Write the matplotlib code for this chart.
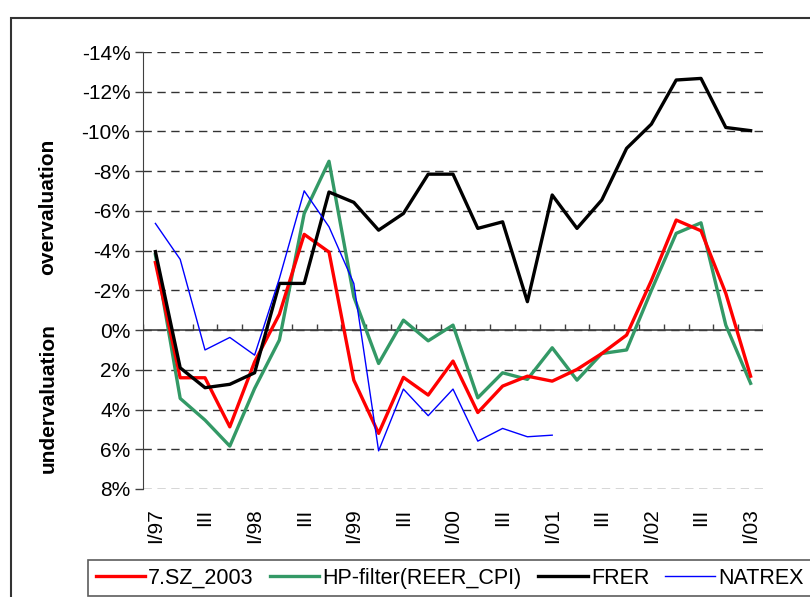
import numpy as np
import matplotlib
matplotlib.use('Agg')
import matplotlib.pyplot as plt
from matplotlib.patches import Rectangle

plt.rcParams['font.family'] = ['Liberation Sans', 'DejaVu Sans']

# Quarterly data, I/97 .. I/03 (deviation in %, negative = overvaluation)
quarters = ['I/97', 'II/97', 'III/97', 'IV/97',
            'I/98', 'II/98', 'III/98', 'IV/98',
            'I/99', 'II/99', 'III/99', 'IV/99',
            'I/00', 'II/00', 'III/00', 'IV/00',
            'I/01', 'II/01', 'III/01', 'IV/01',
            'I/02', 'II/02', 'III/02', 'IV/02',
            'I/03']
tick_labels = ['I/97', 'III', 'I/98', 'III', 'I/99', 'III', 'I/00',
               'III', 'I/01', 'III', 'I/02', 'III', 'I/03']

sz_2003 = [-3.4, 2.4, 2.4, 4.87, 1.6, -0.8, -4.82, -3.93, 2.52, 5.2, 2.38, 3.27,
           1.56, 4.15, 2.82, 2.32, 2.57, 1.98, 1.18, 0.25, -2.5, -5.54, -5.0, -1.85, 2.32]
hp_filter = [-3.8, 3.44, 4.53, 5.84, 2.94, 0.5, -5.87, -8.5, -1.68, 1.68, -0.5, 0.54,
             -0.25, 3.41, 2.15, 2.48, 0.89, 2.52, 1.18, 1.0, -2.0, -4.87, -5.4, -0.25, 2.68]
frer = [-3.95, 1.9, 2.9, 2.73, 2.15, -2.35, -2.35, -6.95, -6.43, -5.03, -5.87, -7.85,
        -7.85, -5.12, -5.45, -1.43, -6.8, -5.12, -6.55, -9.15, -10.37, -12.59, -12.67, -10.2, -10.04]
natrex = [-5.37, -3.56, 1.0, 0.37, 1.26, -2.6, -7.01, -5.2, -2.35, 6.08, 2.97, 4.31,
          2.97, 5.59, 4.95, 5.37, 5.29] + [np.nan] * 8

x = np.arange(len(quarters))

fig = plt.figure(figsize=(8.1, 5.97), dpi=100)
ax = fig.add_axes([143 / 810, 1 - 489 / 597, 620 / 810, 437 / 597])

ax.plot(x, sz_2003, color='#ff0000', lw=2.4, label='7.SZ_2003', zorder=4)
ax.plot(x, hp_filter, color='#339966', lw=2.4, label='HP-filter(REER_CPI)', zorder=3)
ax.plot(x, frer, color='black', lw=2.4, label='FRER', zorder=5)
ax.plot(x, natrex, color='#0000ff', lw=1.0, label='NATREX', zorder=6)

# Axes: inverted y, zero line with tick marks at quarter boundaries
ax.set_xlim(-0.5, len(quarters) - 0.5)
ax.set_ylim(8, -14)
yt = np.arange(-14, 9, 2)
ax.set_yticks(yt)
ax.set_yticklabels([f'{v}%' for v in yt], fontsize=15)
ax.tick_params(axis='y', direction='out', length=6, width=1, color='#404040', pad=3)

ax.set_xticks(np.arange(0, len(quarters), 2))
ax.set_xticklabels(tick_labels, rotation=90, fontsize=15, va='top')
ax.tick_params(axis='x', length=0, pad=14)

ax.grid(axis='y', linestyle=(0, (6, 4)), color='#333333', lw=1)
ax.grid(False, axis='x')
ax.axhline(0, color='#404040', lw=1.2, zorder=2)
ax.vlines(np.arange(-0.5, len(quarters)), 0, -0.33, color='#404040', lw=1, zorder=2)

for s in ['top', 'right', 'bottom']:
    ax.spines[s].set_visible(False)
ax.spines['left'].set_color('#404040')

fig.text(48 / 810, 1 - 207 / 597, 'overvaluation', rotation=90, fontsize=15,
         fontweight='bold', ha='center', va='center')
fig.text(48 / 810, 1 - 398 / 597, 'undervaluation', rotation=90, fontsize=15,
         fontweight='bold', ha='center', va='center')

# Outer chart frame (runs off the right/bottom edge)
fig.patches.append(Rectangle((11 / 810, -0.1), 1.0, 1.1 - 18 / 597,
                             transform=fig.transFigure, fill=False,
                             edgecolor='#333333', lw=1.5))

leg = fig.legend(loc='upper left', bbox_to_anchor=(88 / 810, 1 - 560 / 597),
                 ncol=4, fontsize=15.5, frameon=True, fancybox=False,
                 edgecolor='#333333', handlelength=2.3, handletextpad=0.15,
                 columnspacing=0.75, borderpad=0.35, borderaxespad=0)
leg.get_frame().set_linewidth(1.2)

fig.savefig('out.png', dpi=100)
